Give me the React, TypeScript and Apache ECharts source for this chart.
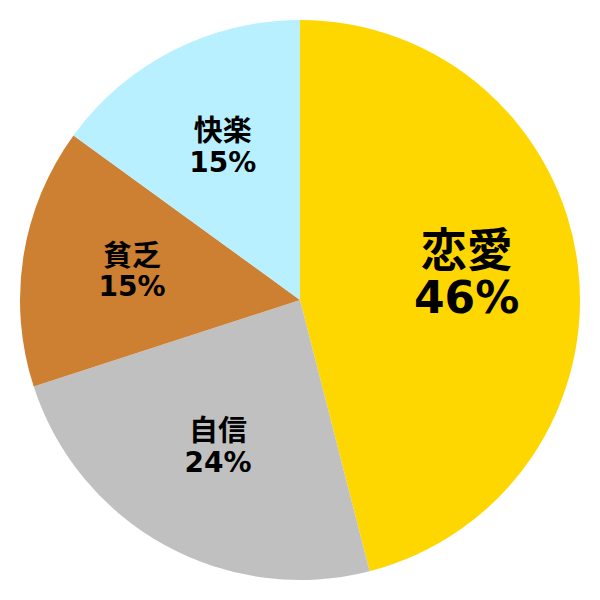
import React, { useEffect, useRef } from "react";
import * as echarts from "echarts";

const categories = ["恋愛", "自信", "貧乏", "快楽"];
const values = [46, 24, 15, 15];
const colors = ["#FFD700", "#C0C0C0", "#CD7F32", "#B8F0FF"];
const nameSizes = [46, 29, 29, 29];
const pctSizes = [44, 28, 28, 28];
const lineHeights = [48, 31, 31, 31];

export default function App() {
  const ref = useRef<HTMLDivElement>(null);
  useEffect(() => {
    if (!ref.current) return;
    const chart = echarts.init(ref.current, undefined, { renderer: "svg" });
    const font = "DejaVu Sans, 'Noto Sans CJK JP', sans-serif";
    const pieData = categories.map((c, i) => ({
      name: c,
      value: values[i],
      itemStyle: { color: colors[i] },
    }));
    const labelData = categories.map((c, i) => ({
      name: c,
      value: values[i],
      itemStyle: { color: "rgba(0,0,0,0)" },
      label: {
        offset: i === 0 ? [-2, -5] : [0, -2],
        rich: {
          n: {
            fontSize: nameSizes[i],
            lineHeight: lineHeights[i],
            fontWeight: "bold",
            fontFamily: font,
            color: "#000",
            align: "center",
          },
          p: {
            fontSize: pctSizes[i],
            lineHeight: lineHeights[i],
            fontWeight: "bold",
            fontFamily: font,
            color: "#000",
            align: "center",
          },
        },
      },
    }));
    chart.setOption({
      animation: false,
      backgroundColor: "#ffffff",
      series: [
        {
          type: "pie",
          center: [300, 300],
          radius: [0, 280],
          startAngle: 90,
          clockwise: true,
          label: { show: false },
          labelLine: { show: false },
          itemStyle: { borderWidth: 0 },
          emphasis: { disabled: true },
          silent: true,
          data: pieData,
        },
        {
          type: "pie",
          center: [300, 300],
          radius: [54, 280],
          startAngle: 90,
          clockwise: true,
          silent: true,
          emphasis: { disabled: true },
          itemStyle: { borderWidth: 0 },
          labelLine: { show: false },
          label: {
            show: true,
            position: "inside",
            color: "#000000",
            fontWeight: "bold",
            fontFamily: font,
            align: "center",
            formatter: (p: any) => `{n|${p.name}}\n{p|${p.value}%}`,
          },
          data: labelData,
        },
      ],
    });
    return () => chart.dispose();
  }, []);
  return (
    <div
      ref={ref}
      style={{ position: "fixed", left: 0, top: 0, width: 600, height: 600 }}
    />
  );
}
